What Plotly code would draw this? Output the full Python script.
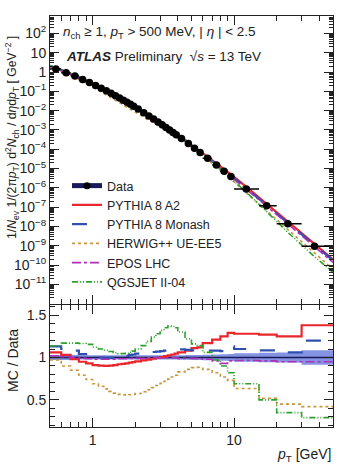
import plotly.graph_objects as go
import math

# ---------------- data ----------------
edges = [0.5, 0.6, 0.7, 0.8, 0.9, 1.0, 1.1, 1.2, 1.3, 1.4, 1.5, 1.6, 1.7, 1.8, 1.9, 2.0,
         2.2, 2.4, 2.6, 2.8, 3.0, 3.2, 3.4, 3.6, 3.8, 4.0, 4.5, 5.0, 5.5, 6.0,
         7.0, 8.0, 9.0, 10.0, 15.0, 20.0, 30.0, 50.0]
pt_points = [0.55, 0.65, 0.75, 0.85, 0.95, 1.05, 1.15, 1.25, 1.35, 1.45, 1.55, 1.65, 1.75, 1.85, 1.95,
             2.1, 2.3, 2.5, 2.7, 2.9, 3.1, 3.3, 3.5, 3.7, 3.9, 4.25, 4.75, 5.25, 5.75,
             6.5, 7.5, 8.5, 9.5, 12.2, 17.0, 24.0, 37.0]
spectrum = [1.45, 0.927, 0.612, 0.414, 0.286, 0.202, 0.1455, 0.1062, 0.0787, 0.0593,
            0.0451, 0.0347, 0.0269, 0.0211, 0.01675, 0.01197, 0.00785, 0.00528, 0.00365, 0.00256,
            0.00184, 0.00134, 0.00099, 0.000741, 0.000562, 0.000356, 0.000196, 0.000113, 6.84e-5,
            3.43e-5, 1.51e-5, 7.33e-6, 3.82e-6, 8.67e-7, 1.17e-7, 1.40e-8, 9.46e-10]
spectrum_at_lo = 1.83      # spectrum read at 0.5 GeV
spectrum_at_hi = 1.44e-10  # spectrum read at 50 GeV
data_rel_err = [0.03, 0.03, 0.03, 0.025, 0.025, 0.025, 0.025, 0.025, 0.025, 0.025,
                0.025, 0.025, 0.025, 0.025, 0.025, 0.025, 0.025, 0.025, 0.025, 0.025,
                0.025, 0.025, 0.025, 0.025, 0.025, 0.027, 0.028, 0.03, 0.03,
                0.032, 0.035, 0.038, 0.04, 0.05, 0.055, 0.06, 0.085]

ratio_a2 = [1.06, 1.03, 0.98, 0.95, 0.93, 0.91, 0.905, 0.90, 0.905, 0.91,
            0.92, 0.925, 0.93, 0.94, 0.945, 0.955, 0.965, 0.975, 0.985, 0.995,
            1.005, 1.015, 1.025, 1.035, 1.045, 1.06, 1.08, 1.11, 1.12,
            1.17, 1.21, 1.25, 1.29, 1.28, 1.27, 1.25, 1.38]
ratio_monash = [1.13, 1.10, 1.08, 1.04, 1.02, 1.0, 1.0, 0.995, 0.995, 1.0,
                1.005, 1.01, 1.02, 1.03, 1.035, 1.045, 1.055, 1.06, 1.065, 1.07,
                1.075, 1.08, 1.085, 1.09, 1.09, 1.095, 1.09, 1.085, 1.085,
                1.08, 1.08, 1.075, 1.13, 1.10, 1.085, 1.06, 1.20]
ratio_herwig = [0.97, 0.90, 0.85, 0.79, 0.74, 0.69, 0.66, 0.63, 0.60, 0.58,
                0.565, 0.56, 0.555, 0.56, 0.565, 0.575, 0.595, 0.62, 0.645, 0.67,
                0.695, 0.72, 0.745, 0.77, 0.79, 0.83, 0.86, 0.88, 0.885,
                0.86, 0.82, 0.77, 0.73, 0.635, 0.52, 0.45, 0.42]
ratio_epos = [1.02, 1.01, 1.0, 0.99, 0.985, 0.98, 0.98, 0.98, 0.98, 0.98,
              0.985, 0.985, 0.985, 0.99, 0.99, 0.99, 0.99, 0.995, 0.995, 0.995,
              0.995, 0.995, 0.995, 0.995, 0.995, 0.99, 0.99, 0.99, 0.985,
              0.98, 0.96, 0.93, 0.96, 0.965, 0.96, 0.95, 0.95]
ratio_qgsjet = [1.135, 1.17, 1.17, 1.165, 1.155, 1.12, 1.10, 1.085, 1.07, 1.055,
                1.045, 1.045, 1.05, 1.06, 1.075, 1.10, 1.14, 1.19, 1.24, 1.28,
                1.32, 1.35, 1.37, 1.365, 1.35, 1.30, 1.22, 1.16, 1.14,
                1.06, 0.97, 0.90, 0.82, 0.69, 0.50, 0.35, 0.29]

models = [
    ("PYTHIA 8 A2", ratio_a2, "#e8262b", "solid", 2.2),
    ("PYTHIA 8 Monash", ratio_monash, "#3050b0", "longdash", 2.2),
    ("HERWIG++ UE-EE5", ratio_herwig, "#c8963c", "dot", 1.6),
    ("EPOS LHC", ratio_epos, "#b030b8", "dashdot", 1.6),
    ("QGSJET II-04", ratio_qgsjet, "#2ea02e", "6px,2px,1px,2px,1px,2px", 1.6),
]

FONT = "Liberation Sans, Arial, Helvetica, sans-serif"
fig = go.Figure()

# legend entry for data (first in legend)
fig.add_trace(go.Scatter(x=[None], y=[None], mode="lines+markers", name="Data",
                         line=dict(color="#1a1a5a", width=5),
                         marker=dict(color="black", size=7),
                         xaxis="x", yaxis="y"))

# ---------- top panel: MC curves ----------
for i, (name, r, col, dash, w) in enumerate(models):
    xs = [edges[0]] + pt_points + [edges[-1]]
    ys = [spectrum_at_lo * r[0]] + [s * q for s, q in zip(spectrum, r)] + [spectrum_at_hi * r[-1]]
    fig.add_trace(go.Scatter(x=xs, y=ys, mode="lines", name=name,
                             line=dict(color=col, dash=dash, width=w),
                             xaxis="x", yaxis="y"))

# data points
err_plus = [edges[i + 1] - pt_points[i] for i in range(len(pt_points))]
err_minus = [pt_points[i] - edges[i] for i in range(len(pt_points))]
fig.add_trace(go.Scatter(x=pt_points, y=spectrum, mode="markers", showlegend=False,
                         marker=dict(color="black", size=7.5),
                         error_x=dict(type="data", symmetric=False, array=err_plus,
                                      arrayminus=err_minus, color="black", thickness=1.5, width=0),
                         xaxis="x", yaxis="y"))

# ---------- ratio panel ----------
hi = [1 + e for e in data_rel_err]
lo = [1 - e for e in data_rel_err]
fig.add_trace(go.Scatter(x=edges, y=lo + [lo[-1]], mode="lines", line=dict(width=0, shape="hv"),
                         showlegend=False, xaxis="x2", yaxis="y2", hoverinfo="skip"))
fig.add_trace(go.Scatter(x=edges, y=hi + [hi[-1]], mode="lines", line=dict(width=0, shape="hv"),
                         fill="tonexty", fillcolor="rgba(90,110,215,0.75)",
                         showlegend=False, xaxis="x2", yaxis="y2", hoverinfo="skip"))
fig.add_trace(go.Scatter(x=[edges[0], edges[-1]], y=[1, 1], mode="lines",
                         line=dict(color="#1a1a5a", width=1.5),
                         showlegend=False, xaxis="x2", yaxis="y2"))
for name, r, col, dash, w in models:
    fig.add_trace(go.Scatter(x=edges, y=r + [r[-1]], mode="lines", showlegend=False,
                             line=dict(color=col, dash=dash, width=w, shape="hv"),
                             xaxis="x2", yaxis="y2"))

# ---------- axes ----------
x_major = [1, 10]
x_minor = [0.6, 0.7, 0.8, 0.9, 2, 3, 4, 5, 6, 7, 8, 9, 20, 30, 40, 50]
y_major = [10.0 ** k for k in range(-11, 3)]
y_text = []
for k in range(-11, 3):
    if k == 0:
        y_text.append("1")
    elif k == 1:
        y_text.append("10")
    elif k < 0:
        y_text.append("10<sup>\u2212%d</sup>" % (-k))
    else:
        y_text.append("10<sup>%d</sup>" % k)
y_minor = [m * 10.0 ** k for k in range(-12, 3) for m in range(2, 10)]

axis_common = dict(showline=True, linecolor="#222", linewidth=1, mirror="ticks",
                   ticks="inside", tickcolor="#222", showgrid=False, zeroline=False)
xrange = [math.log10(edges[0]), math.log10(edges[-1])]

fig.update_layout(
    width=338, height=468,
    margin=dict(l=50, r=5, t=16, b=41),
    paper_bgcolor="white", plot_bgcolor="white",
    font=dict(family=FONT, size=14, color="#222"),
    xaxis=dict(type="log", range=xrange, domain=[0, 1], anchor="y", showticklabels=False,
               tickvals=x_major, ticklen=9,
               minor=dict(tickvals=x_minor, ticklen=5, ticks="inside", tickcolor="#222"),
               **axis_common),
    yaxis=dict(type="log", range=[-12, 2.9], domain=[0.3, 1], anchor="x",
               tickvals=y_major, ticktext=y_text, ticklen=9,
               minor=dict(tickvals=y_minor, ticklen=4, ticks="inside", tickcolor="#222"),
               **axis_common),
    xaxis2=dict(type="log", range=xrange, domain=[0, 1], anchor="y2",
                tickvals=x_major, ticktext=["1", "10"], ticklen=9,
                minor=dict(tickvals=x_minor, ticklen=5, ticks="inside", tickcolor="#222"),
                **axis_common),
    yaxis2=dict(range=[0.18, 1.62], domain=[0, 0.297], anchor="x2",
                tickvals=[0.5, 1, 1.5], ticktext=["0.5", "1", "1.5"], ticklen=9,
                minor=dict(dtick=0.1, ticklen=5, ticks="inside", tickcolor="#222"),
                **axis_common),
    legend=dict(x=0.06, y=1 - (171 - 16) / 411, xanchor="left", yanchor="top",
                bgcolor="rgba(0,0,0,0)", traceorder="normal",
                font=dict(family=FONT, size=12.5, color="#222"), tracegroupgap=0),
    showlegend=True,
)

ann = [
    dict(text="<i>n</i><sub>ch</sub> \u2265 1, <i>p</i><sub>T</sub> > 500 MeV, | <i>\u03b7</i> | < 2.5",
         x=0.04, y=1 - (33 - 16) / 411, xanchor="left", yanchor="middle", font=dict(size=13.5)),
    dict(text="<b><i>ATLAS</i></b> Preliminary  \u221a<i>s</i> = 13 TeV",
         x=0.05, y=1 - (57 - 16) / 411, xanchor="left", yanchor="middle", font=dict(size=13.5)),
    dict(text="1/<i>N</i><sub>ev</sub> 1/(2\u03c0<i>p</i><sub>T</sub>) d<sup>2</sup><i>N</i><sub>ch</sub> / d<i>\u03b7</i>d<i>p</i><sub>T</sub> [ GeV<sup>\u22122</sup> ]",
         x=(12 - 50) / 283, y=1 - (138 - 16) / 411, xanchor="center", yanchor="middle",
         textangle=-90, font=dict(size=12.2)),
    dict(text="MC / Data", x=(13 - 50) / 283, y=1 - (360 - 16) / 411, xanchor="center",
         yanchor="middle", textangle=-90, font=dict(size=14)),
    dict(text="<i>p</i><sub>T</sub> [GeV]", x=1.0, y=1 - (455 - 16) / 411, xanchor="right",
         yanchor="middle", font=dict(size=14)),
]
for a in ann:
    a.update(xref="paper", yref="paper", showarrow=False)
fig.update_layout(annotations=ann)

fig.write_html("out.html")
